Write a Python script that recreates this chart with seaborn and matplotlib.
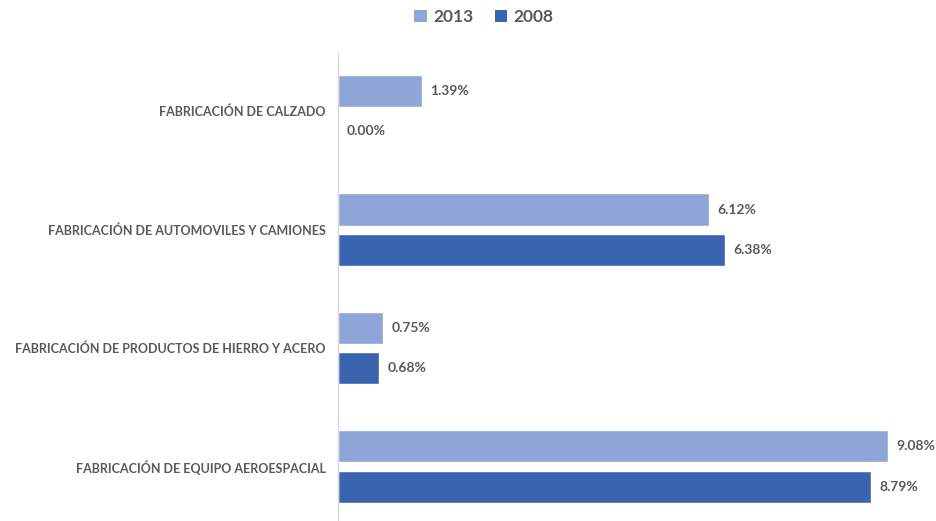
import matplotlib
matplotlib.use("Agg")
import matplotlib.pyplot as plt
import seaborn as sns
import pandas as pd
from matplotlib.patches import Patch

categories = ["FABRICACIÓN DE CALZADO",
              "FABRICACIÓN DE AUTOMOVILES Y CAMIONES",
              "FABRICACIÓN DE PRODUCTOS DE HIERRO Y ACERO",
              "FABRICACIÓN DE EQUIPO AEROESPACIAL"]
years = ["2013", "2008"]
values_2013 = [1.39, 6.12, 0.75, 9.08]
values_2008 = [0.00, 6.38, 0.68, 8.79]

df = pd.DataFrame({
    "cat": categories * 2,
    "year": [years[0]] * 4 + [years[1]] * 4,
    "val": values_2013 + values_2008,
})

sns.set_theme(style="white")
plt.rcParams['font.family'] = ['Lato', 'DejaVu Sans']

colors = {"2013": "#8FA5D7", "2008": "#3A64AF"}
text_color = "#595959"

fig = plt.figure(figsize=(9.37, 5.21), dpi=100)
ax = fig.add_axes([338 / 937, 0.0, 1 - 338 / 937, 1 - 52 / 521])

sns.barplot(data=df, y="cat", x="val", hue="year", hue_order=years,
            palette=colors, orient="h", width=0.68, gap=0.2, ax=ax,
            legend=False, saturation=1)

for container in ax.containers:
    ax.bar_label(container, labels=[f"{v:.2f}%" for v in container.datavalues],
                 padding=6, fontsize=10, fontweight="bold", color=text_color)

ax.set_xlim(0, (937 - 338) / 60.6)
ax.set_ylim(3.46, -0.5)
ax.set_xlabel("")
ax.set_ylabel("")
ax.set_xticks([])
for s in ["top", "right", "bottom"]:
    ax.spines[s].set_visible(False)
ax.spines["left"].set_color("#D9D9D9")
ax.spines["left"].set_linewidth(1)
ax.tick_params(axis="y", length=0, pad=9)
for lbl in ax.get_yticklabels():
    lbl.set_fontsize(9)
    lbl.set_fontweight("bold")
    lbl.set_color(text_color)

handles = [Patch(facecolor=colors[y], edgecolor="none") for y in years]
fig.legend(handles, years, loc="center", bbox_to_anchor=(484 / 937, 1 - 17 / 521),
           ncol=2, frameon=False, prop={"size": 12.5, "weight": "bold"},
           handlelength=0.7, handleheight=0.7,
           handletextpad=0.4, columnspacing=1.2, labelcolor=text_color)

fig.savefig("out.png", dpi=100)
